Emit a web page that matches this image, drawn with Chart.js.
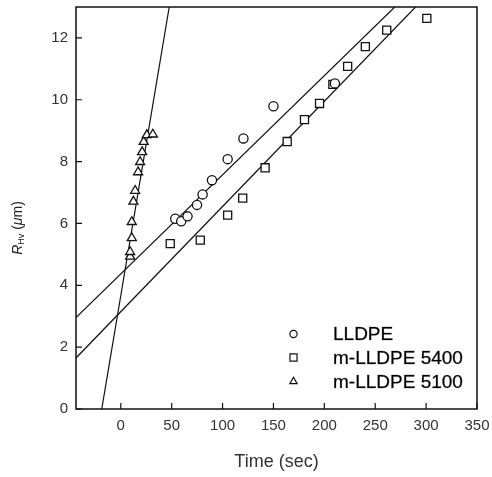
<!DOCTYPE html>
<html><head><meta charset="utf-8">
<script src="https://cdn.jsdelivr.net/npm/chart.js@4/dist/chart.umd.min.js"></script>
<style>html,body{margin:0;padding:0;background:#fff;}canvas{display:block;}</style>
</head><body>
<canvas id="c" width="492" height="477"></canvas>
<script>
// ---- data ----
const seriesNames = ['LLDPE', 'm-LLDPE 5400', 'm-LLDPE 5100'];

const lldpeX = [53.5, 59.4, 65.6, 74.9, 80.4, 89.6, 105.0, 120.5, 150.0, 210.4];
const lldpeY = [6.15, 6.07, 6.23, 6.60, 6.94, 7.40, 8.08, 8.75, 9.79, 10.53];

const m5400X = [48.6, 78.1, 105.0, 119.8, 141.8, 163.5, 180.5, 195.3, 208.4, 222.9, 240.3, 261.3, 300.7];
const m5400Y = [5.35, 5.46, 6.27, 6.82, 7.80, 8.65, 9.36, 9.88, 10.50, 11.08, 11.72, 12.25, 12.63];

const m5100X = [9.2, 9.2, 10.8, 10.8, 12.4, 14.1, 17.0, 19.0, 21.0, 22.5, 25.6, 31.5];
const m5100Y = [4.93, 5.08, 5.53, 6.05, 6.71, 7.06, 7.66, 7.99, 8.31, 8.64, 8.86, 8.88];

// linear fit lines (end points)
const lldpeFitX = [-44, 269.2];
const lldpeFitY = [2.96, 13];
const m5400FitX = [-44, 289.6];
const m5400FitY = [1.65, 13];
const m5100FitX = [-18.7, 47.6];
const m5100FitY = [0, 13];

const xTicks = [0, 50, 100, 150, 200, 250, 300, 350];
const yTicks = [0, 2, 4, 6, 8, 10, 12];

const xTitle = 'Time (sec)';
// ---------------------------------------

const FAM = '"Liberation Sans", Arial, Helvetica, sans-serif';
const pts = (xs, ys) => xs.map((v, i) => ({x: v, y: ys[i]}));
const ink = '#111';

function markerSet(label, xs, ys, style, r) {
  return {type: 'scatter', label, data: pts(xs, ys), pointStyle: style, pointRadius: r,
    pointBorderColor: ink, pointBackgroundColor: '#fff', pointBorderWidth: 1.3,
    showLine: false, order: 0};
}
function fitSet(xs, ys) {
  return {type: 'line', label: '', data: pts(xs, ys), borderColor: ink, borderWidth: 1.2,
    pointRadius: 0, fill: false, tension: 0, order: 5};
}

const legendStyles = [
  {style: 'circle', r: 3.6},
  {style: 'rect', r: 5},
  {style: 'triangle', r: 4.2}
];

function drawShape(ctx, style, x, y, r) {
  ctx.beginPath();
  if (style === 'circle') {
    ctx.arc(x, y, r, 0, Math.PI * 2);
  } else if (style === 'rect') {
    const s = Math.SQRT1_2 * r;
    ctx.rect(x - s, y - s, 2 * s, 2 * s);
  } else {
    const a = 2 * Math.PI / 3;
    ctx.moveTo(x, y - r);
    ctx.lineTo(x + Math.sin(a) * r, y + r / 2);
    ctx.lineTo(x - Math.sin(a) * r, y + r / 2);
    ctx.closePath();
  }
  ctx.fill();
  ctx.stroke();
}

const noPad = s => { s.paddingTop = 0; s.paddingBottom = 0; s.paddingLeft = 0; s.paddingRight = 0; };

const decor = {
  id: 'decor',
  afterDraw(chart) {
    const {ctx, chartArea: a, scales: {x, y}} = chart;
    ctx.save();
    // frame
    ctx.strokeStyle = ink;
    ctx.lineWidth = 1.5;
    ctx.strokeRect(a.left, a.top, a.right - a.left, a.bottom - a.top);
    // inward ticks
    ctx.lineWidth = 1.2;
    ctx.beginPath();
    x.ticks.forEach(t => { const p = x.getPixelForValue(t.value); ctx.moveTo(p, a.bottom); ctx.lineTo(p, a.bottom - 6); });
    y.ticks.forEach(t => { const p = y.getPixelForValue(t.value); ctx.moveTo(a.left, p); ctx.lineTo(a.left + 6, p); });
    ctx.stroke();

    // legend inside plot (bottom right)
    const lx = 293.5, tx = 333, rows = [334, 357.5, 381.5];
    ctx.strokeStyle = ink;
    ctx.lineWidth = 1.2;
    seriesNames.forEach((n, i) => {
      ctx.fillStyle = '#fff';
      drawShape(ctx, legendStyles[i].style, lx, rows[i], legendStyles[i].r);
      ctx.fillStyle = '#000';
      ctx.font = '19px ' + FAM;
      ctx.textBaseline = 'middle';
      ctx.textAlign = 'left';
      ctx.fillText(n, tx, rows[i] + 1);
      ctx.strokeStyle = 'rgba(0,0,0,0.5)';
      ctx.lineWidth = 0.5;
      ctx.strokeText(n, tx, rows[i] + 1);
      ctx.strokeStyle = ink;
      ctx.lineWidth = 1.2;
    });

    // y-axis title: R_Hv (μm)
    const parts = [
      {t: 'R', f: 'italic 14px ' + FAM, dy: 0},
      {t: 'Hv', f: '9px ' + FAM, dy: 4},
      {t: ' (', f: '14px ' + FAM, dy: 0},
      {t: 'μ', f: 'italic 14px ' + FAM, dy: 0},
      {t: 'm)', f: '14px ' + FAM, dy: 0}
    ];
    let total = 0;
    parts.forEach(p => { ctx.font = p.f; p.w = ctx.measureText(p.t).width; total += p.w; });
    ctx.translate(18, 228);
    ctx.rotate(-Math.PI / 2);
    ctx.fillStyle = '#222';
    ctx.textBaseline = 'middle';
    ctx.textAlign = 'left';
    let cx = -total / 2;
    parts.forEach(p => { ctx.font = p.f; ctx.fillText(p.t, cx, p.dy); cx += p.w; });
    ctx.restore();
  }
};

new Chart(document.getElementById('c'), {
  data: {
    datasets: [
      markerSet(seriesNames[0], lldpeX, lldpeY, 'circle', 4.6),
      markerSet(seriesNames[1], m5400X, m5400Y, 'rect', 5.7),
      markerSet(seriesNames[2], m5100X, m5100Y, 'triangle', 5.2),
      fitSet(lldpeFitX, lldpeFitY),
      fitSet(m5400FitX, m5400FitY),
      fitSet(m5100FitX, m5100FitY)
    ]
  },
  options: {
    responsive: false,
    animation: false,
    layout: {padding: {top: 7, right: 15, left: 0, bottom: 0}},
    plugins: {legend: {display: false}, tooltip: {enabled: false}},
    scales: {
      x: {
        type: 'linear', min: -44, max: 350,
        afterBuildTicks: s => { s.ticks = xTicks.map(v => ({value: v})); },
        afterFit: s => { s.height = 68; noPad(s); },
        grid: {display: false, drawTicks: false},
        border: {display: false},
        ticks: {padding: 8, color: '#333', font: {size: 15, family: FAM}, maxRotation: 0},
        title: {display: true, text: xTitle, color: '#333', font: {size: 18, family: FAM}, padding: {top: 0, bottom: 4}}
      },
      y: {
        type: 'linear', min: 0, max: 13,
        afterBuildTicks: s => { s.ticks = yTicks.map(v => ({value: v})); },
        afterFit: s => { s.width = 76; noPad(s); },
        grid: {display: false, drawTicks: false},
        border: {display: false},
        ticks: {padding: 8, color: '#333', font: {size: 15, family: FAM}}
      }
    }
  },
  plugins: [decor]
});
</script>
</body></html>
